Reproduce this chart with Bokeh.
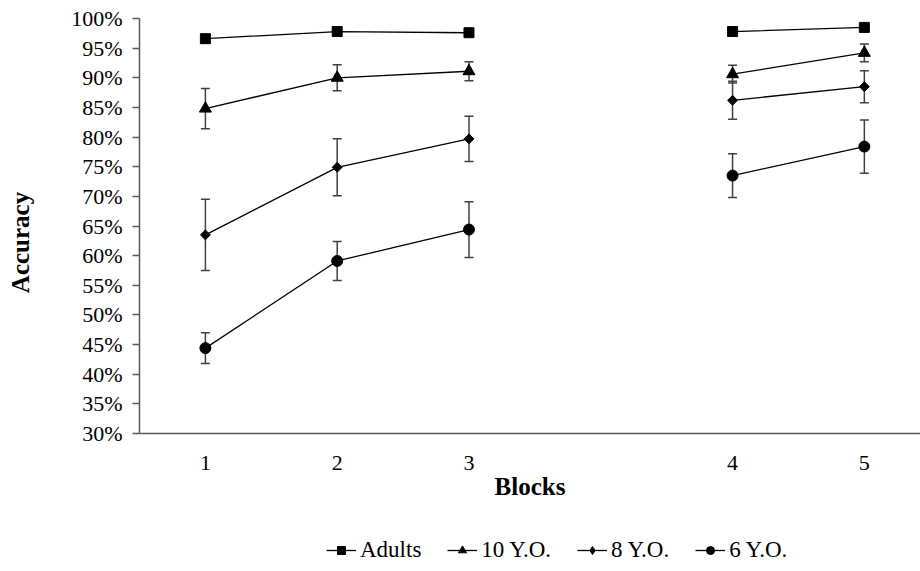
import math
from bokeh.plotting import figure
from bokeh.layouts import column, row
from bokeh.models import (Range1d, FixedTicker, PrintfTickFormatter, Whisker, ColumnDataSource,
                          Legend, LegendItem, Label, TeeHead)
from bokeh.embed import file_html
from bokeh.resources import INLINE

# category slots along the x axis; the blank slot is the gap between block 3 and block 4
slots = ["1", "2", "3", "", "4", "5"]
blocks = ["1", "2", "3", "4", "5"]

series_names = ["Adults", "10 Y.O.", "8 Y.O.", "6 Y.O."]
adults = [96.6, 97.8, 97.6, 97.8, 98.5]
adults_err = [0.0, 0.0, 0.0, 0.0, 0.0]
yo10 = [84.8, 90.0, 91.1, 90.6, 94.2]
yo10_err = [3.4, 2.2, 1.6, 1.5, 1.5]
yo8 = [63.5, 74.9, 79.7, 86.2, 88.5]
yo8_err = [6.0, 4.8, 3.8, 3.2, 2.7]
yo6 = [44.4, 59.1, 64.4, 73.5, 78.4]
yo6_err = [2.6, 3.3, 4.7, 3.7, 4.5]

y_ticks = [30, 35, 40, 45, 50, 55, 60, 65, 70, 75, 80, 85, 90, 95, 100]

FONT = "Liberation Serif"

x_pos = [slots.index(b) + 1 for b in blocks]
x_slots = list(range(1, len(slots) + 1))

# ---- main chart ----
p = figure(width=875, height=510, output_backend="svg", toolbar_location=None,
           x_range=Range1d(0.5, 6.426), y_range=Range1d(30, 100),
           min_border_left=94, min_border_right=0, min_border_top=18, min_border_bottom=77)
p.outline_line_color = None
p.xgrid.visible = False
p.ygrid.visible = False
p.background_fill_color = "white"
p.border_fill_color = "white"

p.yaxis.ticker = FixedTicker(ticks=y_ticks)
p.yaxis.formatter = PrintfTickFormatter(format="%d%%")
p.yaxis.major_tick_out = 7
p.yaxis.major_tick_in = 0
p.yaxis.minor_tick_line_color = None
p.yaxis.major_label_standoff = 10
p.xaxis.ticker = FixedTicker(ticks=x_pos)
p.xaxis.major_label_overrides = {xp: b for xp, b in zip(x_pos, blocks)}
p.xaxis.minor_tick_line_color = None
p.xaxis.major_tick_out = 0
p.xaxis.major_tick_in = 0
p.xaxis.major_label_standoff = 22
for ax in (p.xaxis, p.yaxis):
    ax.axis_line_color = "#595959"
    ax.axis_line_width = 1.5
    ax.major_tick_line_color = "#595959"
    ax.major_tick_line_width = 1.5
    ax.major_label_text_font = FONT
    ax.major_label_text_font_size = "22px"
    ax.major_label_text_color = "black"
p.xaxis.major_tick_line_color = None
p.xaxis.axis_label = "Blocks"
p.xaxis.axis_label_text_font = FONT
p.xaxis.axis_label_text_font_size = "25px"
p.xaxis.axis_label_text_font_style = "bold"
p.xaxis.axis_label_text_color = "black"
p.xaxis.axis_label_standoff = 0

# (values, errors, marker, size, angle, legend marker, legend size)
series = [
    (adults, adults_err, "square", 10, 0.0, "square", 9),
    (yo10, yo10_err, "triangle", 12, 0.0, "triangle", 10),
    (yo8, yo8_err, "square", 7, math.pi / 4, "diamond", 11),
    (yo6, yo6_err, "circle", 11, 0.0, "circle", 9),
]

# ---- legend strip (its ranges keep the data out of view; only the legend shows) ----
lf = figure(width=920, height=61, output_backend="svg", toolbar_location=None,
            x_axis_type=None, y_axis_type=None, x_range=Range1d(-2, -1), y_range=Range1d(-2, -1),
            min_border=0)
lf.outline_line_color = None
lf.xgrid.visible = False
lf.ygrid.visible = False

items = []
for name, (vals, errs, marker, size, ang, lmarker, lsize) in zip(series_names, series):
    # values laid over the slots; the empty slot breaks the line
    slot_vals = [vals[blocks.index(s)] if s in blocks else float("nan") for s in slots]
    p.line(x_slots, slot_vals, line_color="black", line_width=1.3)
    src = ColumnDataSource(dict(x=x_pos, y=vals,
                                lo=[v - e for v, e in zip(vals, errs)],
                                hi=[v + e for v, e in zip(vals, errs)]))
    if any(e > 0 for e in errs):
        w = Whisker(source=src, base="x", upper="hi", lower="lo", dimension="height",
                    line_color="#404040", line_width=1.5,
                    upper_head=TeeHead(size=9, line_color="#404040", line_width=1.5),
                    lower_head=TeeHead(size=9, line_color="#404040", line_width=1.5))
        p.add_layout(w)
    p.scatter("x", "y", source=src, marker=marker, size=size, angle=ang,
              fill_color="black", line_color="black")
    lr = lf.line(x_slots, slot_vals, line_color="black", line_width=1.3)
    ls = lf.scatter(x_pos, vals, marker=lmarker, size=lsize,
                    fill_color="black", line_color="black")
    items.append(LegendItem(label=name, renderers=[lr, ls]))

legend = Legend(items=items, orientation="horizontal", location=(326, 8),
                glyph_width=30, glyph_height=20, label_standoff=4, spacing=26,
                padding=0, margin=0, border_line_color=None, background_fill_alpha=0,
                label_text_font=FONT, label_text_font_size="23px", label_text_color="black")
lf.add_layout(legend)

# ---- y-axis title strip ----
yf = figure(width=45, height=510, output_backend="svg", toolbar_location=None,
            x_axis_type=None, y_axis_type=None, x_range=Range1d(0, 1), y_range=Range1d(0, 1),
            min_border=0)
yf.outline_line_color = None
yf.xgrid.visible = False
yf.ygrid.visible = False
yf.add_layout(Label(x=20, y=191, x_units="screen", y_units="screen", text="Accuracy",
                    angle=math.pi / 2, text_align="center", text_baseline="middle",
                    text_font=FONT, text_font_size="25px", text_font_style="bold",
                    text_color="black"))

layout = column(row(yf, p, spacing=0), lf, spacing=0)
open("out.html", "w").write(file_html(layout, INLINE))
